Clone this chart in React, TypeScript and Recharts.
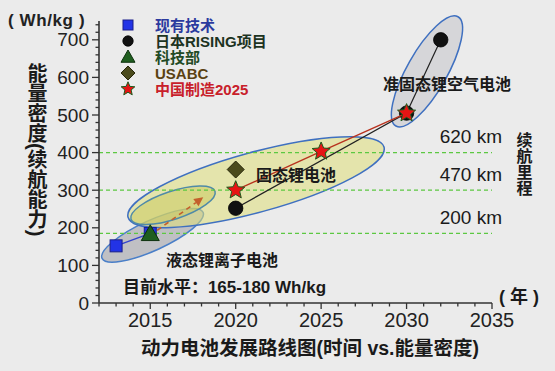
import React from 'react';
import {
  ComposedChart,
  Scatter,
  XAxis,
  YAxis,
  ReferenceLine,
  ReferenceArea,
  ReferenceDot,
  Legend,
} from 'recharts';

const W = 555;
const H = 371;
const FONT = "'Liberation Sans', Arial, 'Noto Sans CJK SC', sans-serif";

// ---- series data (year, Wh/kg)
const currentTech = [{ x: 2013, y: 152 }, { x: 2015, y: 185 }];
const risingProject = [{ x: 2020, y: 252 }, { x: 2030, y: 505 }, { x: 2032, y: 700 }];
const mostPlan = [{ x: 2015, y: 184 }];
const usabcTarget = [{ x: 2020, y: 355 }];
const madeInChina2025 = [{ x: 2020, y: 300 }, { x: 2025, y: 403 }, { x: 2030, y: 505 }];

const seriesNames = ['现有技术', '日本RISING项目', '科技部', 'USABC', '中国制造2025'];

// ---- axes
const xDomain = [2012, 2035];
const yDomain = [0, 750];
const xMajorTicks = [2015, 2020, 2025, 2030, 2035];
const xAllTicks = [2012, 2013, 2014, 2015, 2016, 2017, 2018, 2019, 2020, 2021, 2022, 2023, 2024, 2025, 2026, 2027, 2028, 2029, 2030, 2031, 2032, 2033, 2034, 2035];
const yMajorTicks = [0, 100, 200, 300, 400, 500, 600, 700];
const yAllTicks = [0, 20, 40, 60, 80, 100, 120, 140, 160, 180, 200, 220, 240, 260, 280, 300, 320, 340, 360, 380, 400, 420, 440, 460, 480, 500, 520, 540, 560, 580, 600, 620, 640, 660, 680, 700, 720, 740];

// ---- driving range reference levels
const rangeLevels = [400, 300, 185];
const rangeLabels = ['620 km', '470 km', '200 km'];

// ---- technology zones (ellipse major-axis end points, data units)
const liquidZone = [{ x: 2012.18, y: 118.7 }, { x: 2018.09, y: 241.3 }];
const solidZone = [{ x: 2013.7, y: 228 }, { x: 2028.68, y: 414.7 }];
const transitionZone = [{ x: 2013.87, y: 222.7 }, { x: 2018.79, y: 297.3 }];
const airZone = [{ x: 2029.38, y: 470.7 }, { x: 2033.01, y: 761.3 }];
const trendArrow = [{ x: 2015.4, y: 193 }, { x: 2018.1, y: 281 }];

// ---- annotations
const zoneLabels = ['准固态锂空气电池', '固态锂电池', '液态锂离子电池'];
const zoneLabelPos = [{ x: 2032.37, y: 580 }, { x: 2023.53, y: 340 }, { x: 2019.2, y: 113 }];
const levelNote = '目前水平：165-180 Wh/kg';
const levelNotePos = { x: 2013.4, y: 41 };

// ---- marker shapes
const SquareMark = ({ cx, cy, s = 12 }: any) => (
  <rect x={cx - s / 2} y={cy - s / 2} width={s} height={s} fill="#2233e6" stroke="#1a1f8a" strokeWidth={1} />
);
const CircleMark = ({ cx, cy, r = 7.2 }: any) => (
  <circle cx={cx} cy={cy} r={r} fill="#111" stroke="#000" strokeWidth={0.8} />
);
const TriangleMark = ({ cx, cy, s = 9 }: any) => (
  <polygon
    points={`${cx},${cy - s} ${cx - s},${cy + s * 0.75} ${cx + s},${cy + s * 0.75}`}
    fill="#1f5e1f"
    stroke="#0d300d"
    strokeWidth={1}
  />
);
const DiamondMark = ({ cx, cy, s = 8.5 }: any) => (
  <polygon
    points={`${cx},${cy - s} ${cx + s},${cy} ${cx},${cy + s} ${cx - s},${cy}`}
    fill="#4a4a1c"
    stroke="#26260a"
    strokeWidth={1}
  />
);
const StarMark = ({ cx, cy, R = 9.5 }: any) => {
  const pts: string[] = [];
  for (let i = 0; i < 10; i++) {
    const rad = i % 2 === 0 ? R : R * 0.45;
    const a = -Math.PI / 2 + (i * Math.PI) / 5;
    pts.push(`${cx + rad * Math.cos(a)},${cy + rad * Math.sin(a)}`);
  }
  return <polygon points={pts.join(' ')} fill="#e61414" stroke="#1d5a1d" strokeWidth={1} />;
};

const legendMarks = [
  (cx: number, cy: number) => <SquareMark cx={cx} cy={cy} s={10} />,
  (cx: number, cy: number) => <CircleMark cx={cx} cy={cy} r={5.2} />,
  (cx: number, cy: number) => <TriangleMark cx={cx} cy={cy} s={7} />,
  (cx: number, cy: number) => <DiamondMark cx={cx} cy={cy} s={7} />,
  (cx: number, cy: number) => <StarMark cx={cx} cy={cy} R={7.2} />,
];
const legendColors = ['#2b3a9e', '#1c331f', '#224a24', '#5a4212', '#c8202a'];

// ---- ellipse drawn inside a ReferenceArea whose diagonal is the major axis
const ellipseShape = (minor: number, fill: string, stroke: string) => (props: any) => {
  const { x, y, width, height } = props;
  const cx = x + width / 2;
  const cy = y + height / 2;
  const a = Math.hypot(width, height) / 2;
  const ang = (-Math.atan2(height, width) * 180) / Math.PI;
  return (
    <ellipse
      cx={cx}
      cy={cy}
      rx={a}
      ry={minor}
      transform={`rotate(${ang} ${cx} ${cy})`}
      fill={fill}
      stroke={stroke}
      strokeWidth={1.5}
    />
  );
};

const arrowShape = (props: any) => {
  const { x, y, width, height } = props;
  const x1 = x;
  const y1 = y + height;
  const x2 = x + width;
  const y2 = y;
  const ang = Math.atan2(y2 - y1, x2 - x1);
  const hl = 9;
  const hw = 4.5;
  const bx = x2 - hl * Math.cos(ang);
  const by = y2 - hl * Math.sin(ang);
  const px = -Math.sin(ang);
  const py = Math.cos(ang);
  return (
    <g>
      <line x1={x1} y1={y1} x2={bx} y2={by} stroke="#c4602c" strokeWidth={1.6} strokeDasharray="5 4" />
      <polygon
        points={`${x2},${y2} ${bx + px * hw},${by + py * hw} ${bx - px * hw},${by - py * hw}`}
        fill="#c4602c"
      />
    </g>
  );
};

const XTick = (props: any) => {
  const { x, y, payload } = props;
  const major = xMajorTicks.includes(payload.value);
  return (
    <g>
      <line x1={x} x2={x} y1={y} y2={y + (major ? 6 : 3.5)} stroke="#333" strokeWidth={1.3} />
      {major && (
        <text x={x} y={y + 17} textAnchor="middle" dominantBaseline="central" fontSize={20} fill="#222" fontFamily={FONT}>
          {payload.value}
        </text>
      )}
    </g>
  );
};

const YTick = (props: any) => {
  const { x, y, payload } = props;
  const major = yMajorTicks.includes(payload.value);
  return (
    <g>
      <line x1={x - (major ? 7 : 3.5)} x2={x} y1={y} y2={y} stroke="#333" strokeWidth={1.3} />
      {major && (
        <text x={x - 10} y={y} textAnchor="end" dominantBaseline="central" fontSize={19} fill="#222" fontFamily={FONT}>
          {payload.value}
        </text>
      )}
    </g>
  );
};

const textAt = (text: string, opts: any) => (props: any) => {
  const { cx, cy } = props;
  return (
    <text
      x={cx + (opts.dx || 0)}
      y={cy + (opts.dy || 0)}
      textAnchor={opts.anchor || 'middle'}
      dominantBaseline="central"
      fontSize={opts.size}
      fontWeight={opts.weight || 'normal'}
      fill={opts.color || '#1a1a1a'}
      fontFamily={FONT}
    >
      {text}
    </text>
  );
};

const LegendBox = () => (
  <svg width={180} height={92} style={{ display: 'block' }}>
    {seriesNames.map((n, i) => (
      <g key={n}>
        {legendMarks[i](10, 9 + i * 16)}
        <text
          x={37}
          y={9 + i * 16}
          dominantBaseline="central"
          fontSize={15}
          fontWeight="bold"
          fill={legendColors[i]}
          fontFamily={FONT}
        >
          {n}
        </text>
      </g>
    ))}
  </svg>
);

export default function App() {
  return (
    <div
      style={{
        position: 'absolute',
        left: 0,
        top: 0,
        width: W,
        height: H,
        background: '#ebebeb',
        overflow: 'hidden',
        fontFamily: FONT,
      }}
    >
      <ComposedChart width={W} height={H} margin={{ top: 21, right: 63, bottom: 0, left: 0 }}>
        <XAxis
          dataKey="x"
          type="number"
          domain={xDomain}
          ticks={xAllTicks}
          interval={0}
          height={68}
          tickSize={0}
          tickMargin={0}
          tickLine={false}
          tick={<XTick />}
          axisLine={{ stroke: '#333', strokeWidth: 1.6 }}
        />
        <YAxis
          dataKey="y"
          type="number"
          domain={yDomain}
          ticks={yAllTicks}
          interval={0}
          width={99}
          tickSize={0}
          tickMargin={0}
          tickLine={false}
          tick={<YTick />}
          axisLine={{ stroke: '#333', strokeWidth: 1.6 }}
        />

        <ReferenceArea
          x1={liquidZone[0].x}
          y1={liquidZone[0].y}
          x2={liquidZone[1].x}
          y2={liquidZone[1].y}
          ifOverflow="visible"
          shape={ellipseShape(15, 'rgba(150,150,158,0.5)', '#4a7fc8')}
        />
        <ReferenceArea
          x1={solidZone[0].x}
          y1={solidZone[0].y}
          x2={solidZone[1].x}
          y2={solidZone[1].y}
          ifOverflow="visible"
          shape={ellipseShape(30, 'rgba(222,222,120,0.55)', '#3f70c0')}
        />
        <ReferenceArea
          x1={transitionZone[0].x}
          y1={transitionZone[0].y}
          x2={transitionZone[1].x}
          y2={transitionZone[1].y}
          ifOverflow="visible"
          shape={ellipseShape(14, 'rgba(200,200,90,0.5)', '#4f8aa8')}
        />
        <ReferenceArea
          x1={airZone[0].x}
          y1={airZone[0].y}
          x2={airZone[1].x}
          y2={airZone[1].y}
          ifOverflow="visible"
          shape={ellipseShape(20, 'rgba(175,175,182,0.35)', '#3f70c0')}
        />

        {rangeLevels.map((lv, i) => (
          <ReferenceLine
            key={'rl' + i}
            y={lv}
            stroke="#5cc842"
            strokeWidth={1.3}
            strokeDasharray="4 3"
          />
        ))}

        <ReferenceArea
          x1={trendArrow[0].x}
          y1={trendArrow[0].y}
          x2={trendArrow[1].x}
          y2={trendArrow[1].y}
          ifOverflow="visible"
          shape={arrowShape}
        />

        <Scatter
          name={seriesNames[1]}
          data={risingProject}
          isAnimationActive={false}
          line={{ stroke: '#222', strokeWidth: 1.2 }}
          shape={(p: any) => <CircleMark cx={p.cx} cy={p.cy} />}
        />
        <Scatter
          name={seriesNames[0]}
          data={currentTech}
          isAnimationActive={false}
          line={{ stroke: '#3344cc', strokeWidth: 1.4 }}
          shape={(p: any) => <SquareMark cx={p.cx} cy={p.cy} />}
        />
        <Scatter
          name={seriesNames[4]}
          data={madeInChina2025}
          isAnimationActive={false}
          line={{ stroke: '#b8321e', strokeWidth: 1.4 }}
          shape={() => <g />}
        />
        <Scatter
          name={seriesNames[2]}
          data={mostPlan}
          isAnimationActive={false}
          shape={(p: any) => <TriangleMark cx={p.cx} cy={p.cy} />}
        />
        <Scatter
          name={seriesNames[3]}
          data={usabcTarget}
          isAnimationActive={false}
          shape={(p: any) => <DiamondMark cx={p.cx} cy={p.cy} />}
        />
        <Scatter
          name={seriesNames[4] + ' '}
          data={madeInChina2025}
          isAnimationActive={false}
          shape={(p: any) => <StarMark cx={p.cx} cy={p.cy} />}
        />

        {rangeLevels.map((lv, i) => (
          <ReferenceDot
            key={'rd' + i}
            x={xDomain[1]}
            y={lv}
            r={0}
            shape={textAt(rangeLabels[i], { dx: 10, dy: -16, anchor: 'end', size: 19 })}
          />
        ))}
        {zoneLabels.map((t, i) => (
          <ReferenceDot
            key={'zl' + i}
            x={zoneLabelPos[i].x}
            y={zoneLabelPos[i].y}
            r={0}
            shape={textAt(t, { size: 16, weight: 'bold' })}
          />
        ))}
        <ReferenceDot
          x={levelNotePos.x}
          y={levelNotePos.y}
          r={0}
          shape={textAt(levelNote, { size: 17, weight: 'bold', anchor: 'start' })}
        />

        <Legend
          layout="vertical"
          align="center"
          verticalAlign="middle"
          wrapperStyle={{ left: 118, top: 16, width: 180, height: 92 }}
          content={() => <LegendBox />}
        />
      </ComposedChart>

      <svg
        width={W}
        height={H}
        style={{ position: 'absolute', left: 0, top: 0, pointerEvents: 'none' }}
      >
        <text x={8} y={20} dominantBaseline="central" fontSize={17} fontWeight="bold" fill="#222" fontFamily={FONT} letterSpacing={0.6}>
          ( Wh/kg )
        </text>
        <text
          x={36}
          y={63}
          fontSize={20}
          fontWeight="bold"
          fill="#1a1a1a"
          fontFamily={FONT}
          style={{ writingMode: 'vertical-rl' } as any}
        >
          能量密度(续航能力)
        </text>
        <text
          x={523}
          y={132}
          fontSize={16}
          fontWeight="bold"
          fill="#1a1a1a"
          fontFamily={FONT}
          style={{ writingMode: 'vertical-rl' } as any}
        >
          续航里程
        </text>
        <text x={499} y={297} dominantBaseline="central" fontSize={18} fontWeight="bold" fill="#1a1a1a" fontFamily={FONT}>
          ( 年 )
        </text>
        <text x={310} y={348} textAnchor="middle" dominantBaseline="central" fontSize={19.5} fontWeight="bold" fill="#1a1a1a" fontFamily={FONT}>
          动力电池发展路线图(时间 vs.能量密度)
        </text>
      </svg>
    </div>
  );
}
